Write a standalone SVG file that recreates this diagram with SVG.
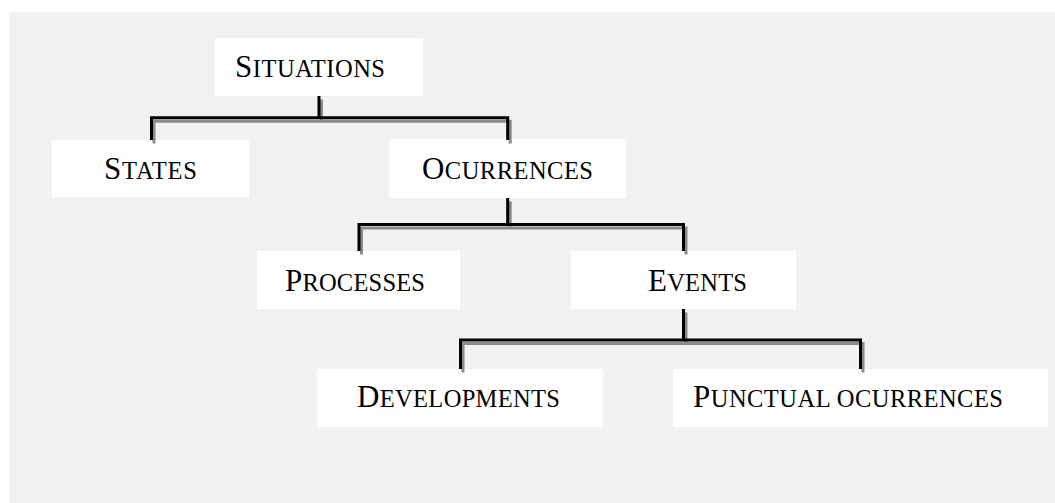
<svg xmlns="http://www.w3.org/2000/svg" width="1055" height="503" viewBox="0 0 1055 503">
  <style>
    .panel { fill: #f1f1f1; }
    .box { fill: #ffffff; }
    .label { font-family: "Liberation Serif", "Times New Roman", serif; font-size: 31px; fill: #000; }
    .sc { font-size: 24.5px; }
    .wire { fill: none; stroke: #000; stroke-width: 3; stroke-linejoin: miter; }
    .shade { fill: none; stroke: #8a8a8a; stroke-width: 3; stroke-linejoin: miter; }
  </style>

  <rect width="1055" height="503" fill="#ffffff"/>
  <rect class="panel" x="9" y="12" width="1046" height="491"/>

  <g id="situations">
    <rect class="box" x="215" y="38" width="208" height="58"/>
    <text class="label" x="235" y="77" textLength="150">S<tspan class="sc">ITUATIONS</tspan></text>
  </g>
  <g id="states">
    <rect class="box" x="52" y="140" width="197" height="57"/>
    <text class="label" x="104" y="179" textLength="93">S<tspan class="sc">TATES</tspan></text>
  </g>
  <g id="ocurrences">
    <rect class="box" x="389" y="139" width="237" height="59"/>
    <text class="label" x="422" y="179" textLength="171">O<tspan class="sc">CURRENCES</tspan></text>
  </g>
  <g id="processes">
    <rect class="box" x="257" y="251" width="203" height="58"/>
    <text class="label" x="285" y="291" textLength="140">P<tspan class="sc">ROCESSES</tspan></text>
  </g>
  <g id="events">
    <rect class="box" x="571" y="251" width="225" height="58"/>
    <text class="label" x="648" y="291" textLength="99">E<tspan class="sc">VENTS</tspan></text>
  </g>
  <g id="developments">
    <rect class="box" x="317" y="369" width="286" height="58"/>
    <text class="label" x="357" y="407" textLength="203">D<tspan class="sc">EVELOPMENTS</tspan></text>
  </g>
  <g id="punctual-ocurrences">
    <rect class="box" x="673" y="369" width="375" height="58"/>
    <text class="label" x="693" y="407" textLength="310">P<tspan class="sc">UNCTUAL OCURRENCES</tspan></text>
  </g>

  <g id="connectors">
    <g transform="translate(2.5,3.5)">
      <path class="shade" d="M319,96 V117.7 M151.5,140 V117.7 H507.7 V140"/>
      <path class="shade" d="M507.7,198 V224.5 M359,251 V224.5 H683.5 V251"/>
      <path class="shade" d="M683.5,309 V340 M460.5,369 V340 H860.5 V369"/>
    </g>
    <path class="wire" d="M319,96 V117.7 M151.5,140 V117.7 H507.7 V140"/>
    <path class="wire" d="M507.7,198 V224.5 M359,251 V224.5 H683.5 V251"/>
    <path class="wire" d="M683.5,309 V340 M460.5,369 V340 H860.5 V369"/>
  </g>
</svg>
